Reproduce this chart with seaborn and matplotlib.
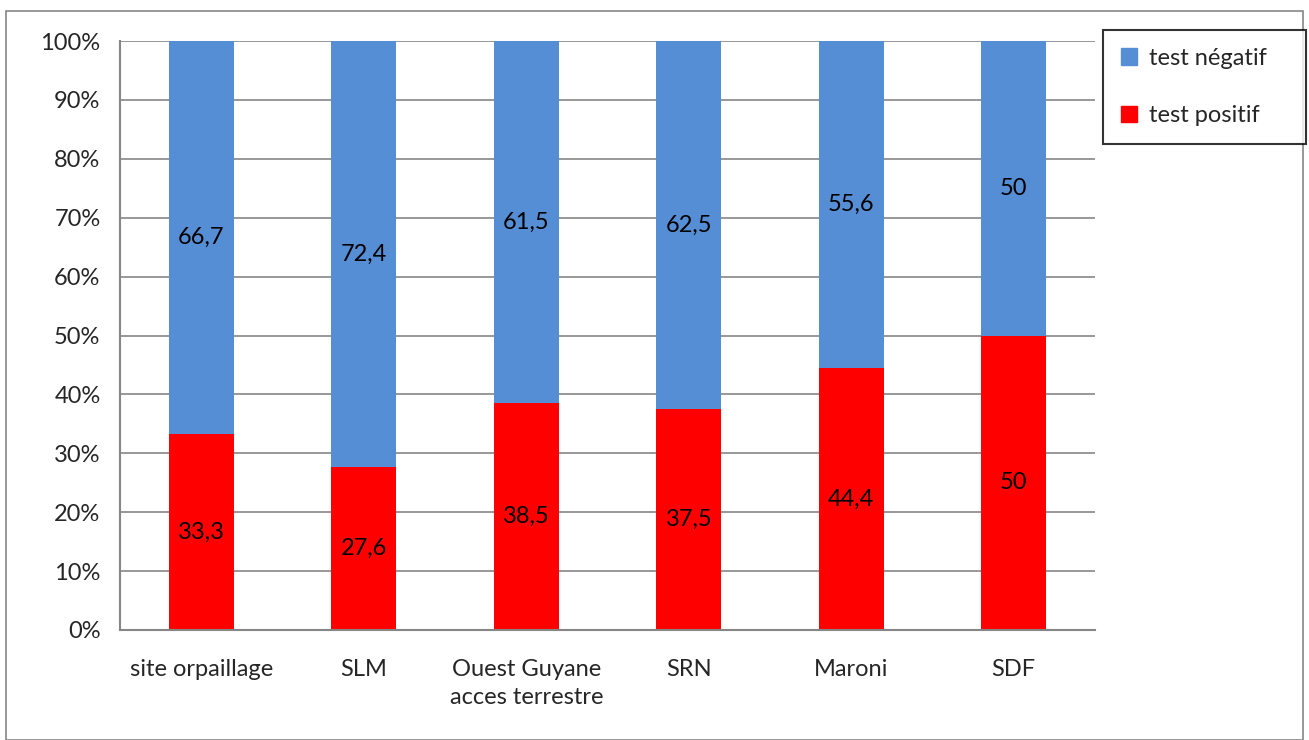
import numpy as np
import seaborn as sns
import matplotlib.pyplot as plt
from matplotlib.patches import Patch, Rectangle
from matplotlib.ticker import FixedLocator, PercentFormatter

categories = ["site orpaillage", "SLM", "Ouest Guyane\nacces terrestre", "SRN", "Maroni", "SDF"]
positif = [33.3, 27.6, 38.5, 37.5, 44.4, 50]
negatif = [66.7, 72.4, 61.5, 62.5, 55.6, 50]

blue = "#558ed5"
red = "#ff0000"
grey = "#868686"
fs = 17

sns.set_style("white")
plt.rcParams["font.family"] = ["Lato", "DejaVu Sans"]
plt.rcParams["font.size"] = fs

fig = plt.figure(figsize=(13.09, 7.4), dpi=100)
ax = fig.add_axes([120 / 1309, 1 - 630 / 740, 975 / 1309, 589 / 740])

sns.barplot(x=categories, y=positif, color=red, width=0.4, saturation=1,
            linewidth=0, ax=ax)
sns.barplot(x=categories, y=negatif, bottom=positif, color=blue, width=0.4,
            saturation=1, linewidth=0, ax=ax)


def fmt(v):
    return f"{v:g}".replace(".", ",")


ax.bar_label(ax.containers[0], labels=[fmt(v) for v in positif], label_type="center",
             fontsize=fs, color="black")
ax.bar_label(ax.containers[1], labels=[fmt(v) for v in negatif], label_type="center",
             fontsize=fs, color="black")

ax.set_ylim(0, 100)
ax.set_xlim(-0.5, len(categories) - 0.5)
ax.yaxis.set_major_locator(FixedLocator(np.arange(0, 101, 10)))
ax.yaxis.set_major_formatter(PercentFormatter(decimals=0))
ax.grid(axis="y", color=grey, linewidth=1.2)
ax.set_axisbelow(True)

ax.xaxis.set_minor_locator(FixedLocator(np.arange(-0.5, len(categories), 1)))
ax.tick_params(axis="x", which="major", length=0, pad=21, labelsize=fs)
ax.tick_params(axis="x", which="minor", length=8, width=1.2, color=grey, direction="out")
ax.tick_params(axis="y", length=8, width=1.2, color=grey, direction="out", pad=6, labelsize=fs)
ax.set_xticks(range(len(categories)))
ax.set_xticklabels(categories, linespacing=1.4)

for side in ["top", "right"]:
    ax.spines[side].set_visible(False)
for side in ["left", "bottom"]:
    ax.spines[side].set_color(grey)
    ax.spines[side].set_linewidth(1.5)

handles = [Patch(color=blue), Patch(color=red)]
leg = fig.legend(handles, ["test négatif", "test positif"], loc="upper left",
                 bbox_to_anchor=(1103 / 1309, 1 - 143 / 740, 203 / 1309, 113 / 740),
                 mode="expand", fontsize=fs, frameon=True, fancybox=False,
                 edgecolor="black", handlelength=0.7, handleheight=0.7,
                 handletextpad=0.5, labelspacing=1.55, borderpad=0.75,
                 borderaxespad=0)
leg.get_frame().set_linewidth(1.5)

fig.patches.append(Rectangle((6 / 1309, 0), 1297 / 1309, 1 - 11 / 740,
                             transform=fig.transFigure, fill=False,
                             edgecolor=grey, linewidth=1.2, zorder=0))

fig.savefig("out.png", dpi=100)
